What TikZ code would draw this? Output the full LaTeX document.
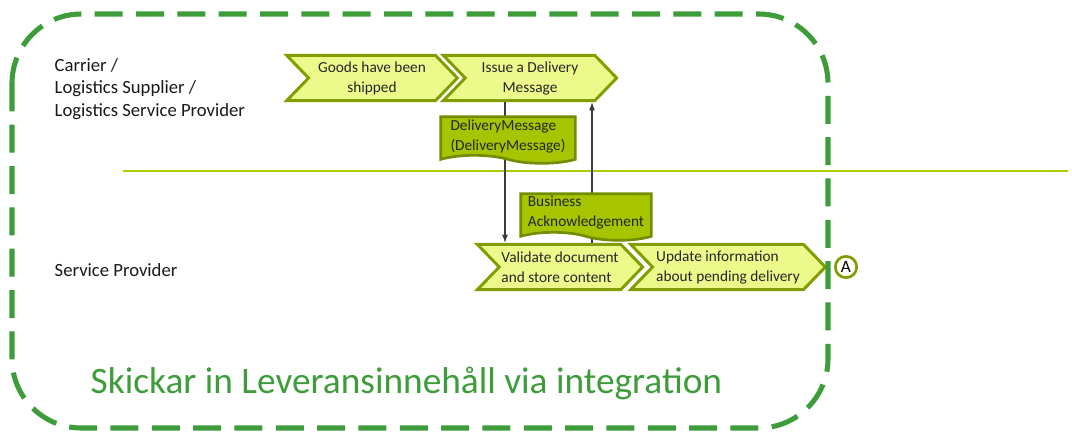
\documentclass[tikz,border=0pt]{standalone}
\usepackage{fontspec}
\setmainfont{Carlito}
\usetikzlibrary{arrows.meta,shapes.symbols,positioning}
\definecolor{frmgreen}{RGB}{62,156,58}
\definecolor{lanelime}{RGB}{172,204,0}
\definecolor{chevfill}{RGB}{236,250,140}
\definecolor{chevdraw}{RGB}{128,158,0}
\definecolor{docfill}{RGB}{166,196,0}
\definecolor{docdraw}{RGB}{112,142,0}
\definecolor{arrdark}{RGB}{60,60,60}

\begin{document}
\begin{tikzpicture}[x=0.75pt, y=-0.75pt,
      chev/.style={signal, signal from=west, signal to=east, signal pointer angle=92, draw=chevdraw, fill=chevfill, line width=2.2pt, minimum height=34pt, inner sep=1pt, font=\fontsize{11.5}{15}\selectfont, text=black!85},
      doc/.style={tape, tape bend top=none, tape bend bottom=out and in, tape bend height=6pt, draw=docdraw, fill=docfill, line width=2pt, inner sep=2pt, align=left, font=\fontsize{11.5}{15}\selectfont, text=black!85},
      lane/.style={anchor=west, align=left, font=\fontsize{14}{17}\selectfont, text=black!90},
      arr/.style={-{Latex[length=2.2mm, width=1.6mm]}, line width=0.8pt, color=arrdark}
    ]
      \useasboundingbox (0,0) rectangle (1072,433);

      % Lane separator
      \draw[lanelime, line width=2.2pt] (123,171) -- (1068,171);

      % Lane labels
      \node[lane] (carrier) at (50,89) {Carrier /\\Logistics Supplier /\\Logistics Service Provider};
      \node[lane] (sp) at (50,270) {Service Provider};

      % Carrier lane
      \node[chev, minimum width=128pt, align=center] (goods) at (372,78) {Goods have been\\shipped};
      \node[chev, minimum width=130pt, align=center] (issue) at (530,78) {Issue a Delivery\\Message};

      % Service provider lane
      \node[chev, minimum width=124pt, align=left] (valid) at (560,267) {Validate document\\and store content};
      \node[chev, minimum width=146pt, align=left] (update) at (728,267) {Update information\\about pending delivery};
      \node[circle, draw=chevdraw, fill=white, line width=2pt, minimum size=16pt, inner sep=0pt, font=\fontsize{13}{13}\selectfont] (endA) at (846,267) {A};

      % Messages
      \coordinate (dmx) at (505,0);
      \coordinate (akx) at (592,0);
      \draw[arr] (issue.south -| dmx) -- (valid.north -| dmx);
      \draw[arr] (valid.north -| akx) -- (issue.south -| akx);
      \node[doc, minimum width=101pt, minimum height=35pt] (dmsg) at (508,136) {DeliveryMessage\\(DeliveryMessage)};
      \node[doc, minimum width=98pt, minimum height=35pt] (ack) at (586,213) {Business\\Acknowledgement};

      % Frame and title
      \draw[frmgreen, line width=3.8pt, rounded corners=52pt, dash pattern=on 21pt off 10pt] (12,14) rectangle (828,428);
      \node[anchor=west, text=frmgreen, font=\fontsize{28}{32}\selectfont] (title) at (86,383) {Skickar in Leveransinnehåll via integration};
    \end{tikzpicture}
\end{document}
